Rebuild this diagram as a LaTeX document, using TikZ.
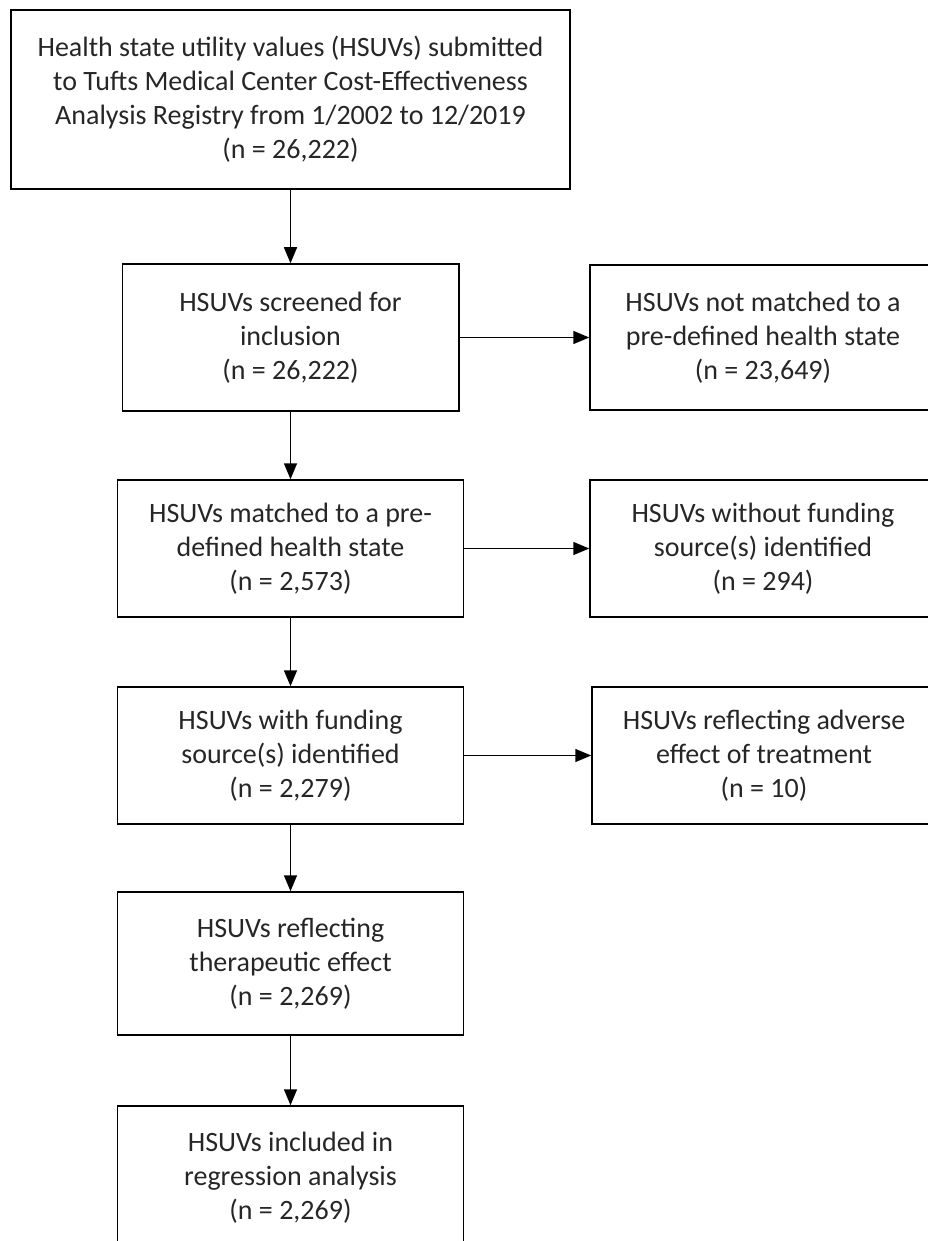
\documentclass[tikz,border=0pt]{standalone}
\usepackage{fontspec}
\setmainfont{Carlito}
\usetikzlibrary{arrows.meta}

\tikzset{
  box/.style={draw, line width=1.5pt, text=black!85, align=center, inner sep=0pt,
    minimum width=346pt, minimum height=137pt, font=\fontsize{28}{34}\selectfont},
  arr/.style={-{Triangle[length=16pt, width=13pt]}, line width=1.5pt}
}

\begin{document}
\begin{tikzpicture}[x=1pt, y=-1pt]
                    \useasboundingbox (0,0) rectangle (928,1241);
                    \node[box, minimum width=559pt, minimum height=179pt] (registry) at (290.5, 99.5) {Health state utility values (HSUVs) submitted\\to Tufts Medical Center Cost-Effectiveness\\Analysis Registry from 1/2002 to 12/2019\\(n = 26,222)};
                    \node[box, minimum width=336.5pt, minimum height=147pt] (screened) at (290.5, 337.5) {HSUVs screened for\\inclusion\\(n = 26,222)};
                    \node[box, minimum height=145pt] (notmatched) at (763, 337.5) {HSUVs not matched to a\\pre-defined health state\\(n = 23,649)};
                    \node[box] (matched) at (290.5, 548.5) {HSUVs matched to a pre-\\defined health state\\(n = 2,573)};
                    \node[box] (nofunding) at (763, 548.5) {HSUVs without funding\\source(s) identified\\(n = 294)};
                    \node[box] (funding) at (290.5, 755.5) {HSUVs with funding\\source(s) identified\\(n = 2,279)};
                    \node[box, minimum width=344pt] (adverse) at (764, 755.5) {HSUVs reflecting adverse\\effect of treatment\\(n = 10)};
                    \node[box, minimum height=143pt] (therapeutic) at (290.5, 963.5) {HSUVs reflecting\\therapeutic effect\\(n = 2,269)};
                    \node[box, minimum height=144pt] (included) at (290.5, 1178) {HSUVs included in\\regression analysis\\(n = 2,269)};
                    \draw[arr] (registry) -- (screened);
                    \draw[arr] (screened) -- (matched);
                    \draw[arr] (matched) -- (funding);
                    \draw[arr] (funding) -- (therapeutic);
                    \draw[arr] (therapeutic) -- (included);
                    \draw[arr] (screened) -- (notmatched);
                    \draw[arr] (matched) -- (nofunding);
                    \draw[arr] (funding) -- (adverse);
                \end{tikzpicture}
\end{document}
